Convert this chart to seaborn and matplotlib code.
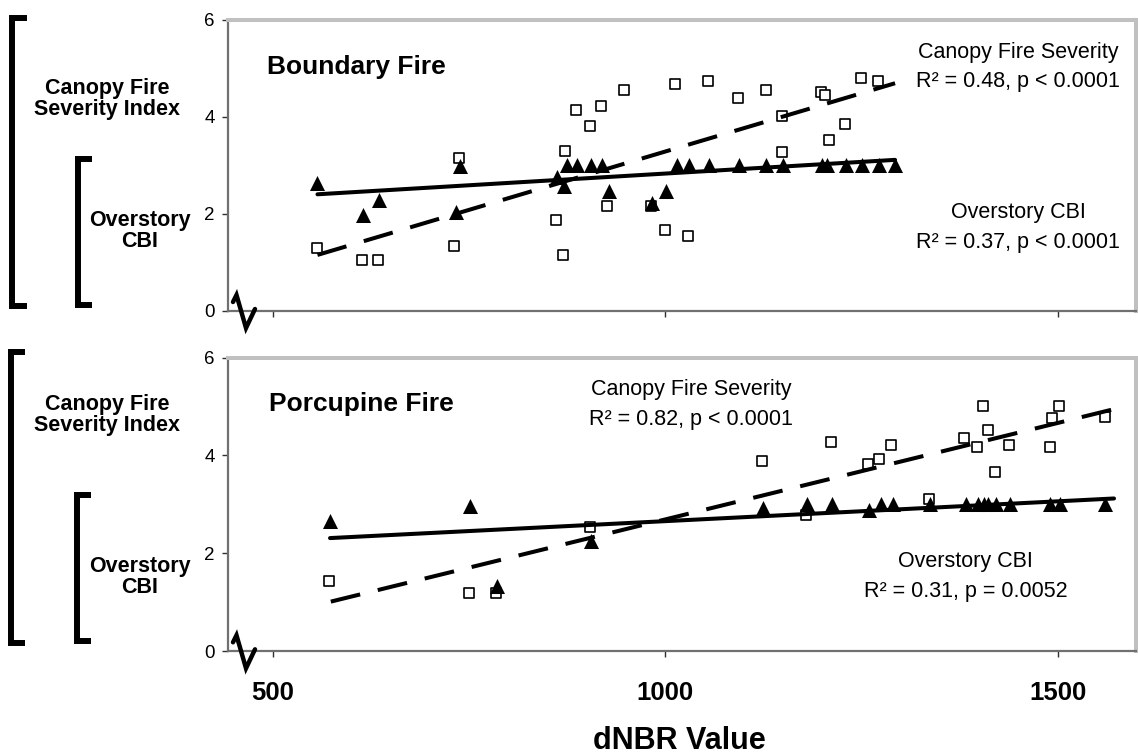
import numpy as np
import pandas as pd
import matplotlib
matplotlib.use("Agg")
import matplotlib.pyplot as plt
from matplotlib.lines import Line2D
import seaborn as sns

# ---------------- data ----------------
# Boundary Fire
bnd_cfsi_x = [557, 614, 634, 731, 737, 861, 870, 873, 887, 904, 918, 926, 947, 982,
              1000, 1012, 1029, 1055, 1093, 1128, 1149, 1149, 1198, 1204, 1209, 1229, 1250, 1271]
bnd_cfsi_y = [1.29, 1.05, 1.05, 1.33, 3.14, 1.87, 1.15, 3.30, 4.14, 3.81, 4.23, 2.16, 4.56, 2.16,
              1.66, 4.67, 1.55, 4.74, 4.38, 4.56, 4.01, 3.27, 4.50, 4.45, 3.52, 3.84, 4.80, 4.74]
bnd_cbi_x = [557, 615, 635, 733, 738, 862, 871, 875, 888, 906, 919, 928, 983,
             1001, 1015, 1031, 1056, 1094, 1129, 1150, 1200, 1206, 1230, 1251, 1272, 1293]
bnd_cbi_y = [2.63, 1.97, 2.28, 2.04, 2.98, 2.76, 2.58, 3.0, 3.0, 3.0, 3.0, 2.47, 2.23,
             2.47, 3.0, 3.0, 3.0, 3.0, 3.0, 3.0, 3.0, 3.0, 3.0, 3.0, 3.0, 3.0]
bnd_cfsi_fit_x = [557, 1293]
bnd_cfsi_fit_y = [1.15, 4.69]
bnd_cbi_fit_x = [557, 1293]
bnd_cbi_fit_y = [2.40, 3.11]

# Porcupine Fire
por_cfsi_x = [572, 750, 785, 904, 1124, 1180, 1211, 1259, 1273, 1288, 1336, 1381, 1398,
              1405, 1411, 1420, 1438, 1491, 1493, 1502, 1561]
por_cfsi_y = [1.44, 1.18, 1.18, 2.54, 3.89, 2.78, 4.28, 3.82, 3.93, 4.21, 3.11, 4.36, 4.18,
              5.02, 4.53, 3.67, 4.21, 4.18, 4.76, 5.02, 4.79]
por_cbi_x = [573, 751, 786, 905, 1125, 1181, 1212, 1260, 1275, 1290, 1337, 1383, 1399,
             1406, 1412, 1421, 1439, 1490, 1503, 1561]
por_cbi_y = [2.65, 2.97, 1.32, 2.26, 2.92, 3.0, 3.0, 2.88, 3.0, 3.0, 3.0, 3.0, 3.0,
             3.0, 3.0, 3.0, 3.0, 3.0, 3.0, 3.0]
por_cfsi_fit_x = [574, 1570]
por_cfsi_fit_y = [1.01, 4.94]
por_cbi_fit_x = [573, 1572]
por_cbi_fit_y = [2.31, 3.12]

fire_names = ["Boundary Fire", "Porcupine Fire"]
cfsi_stats = ["R\u00b2 = 0.48, p < 0.0001", "R\u00b2 = 0.82, p < 0.0001"]
cbi_stats = ["R\u00b2 = 0.37, p < 0.0001", "R\u00b2 = 0.31, p = 0.0052"]
y_ticks = [0, 2, 4, 6]
x_ticks = [500, 1000, 1500]
x_label = "dNBR Value"

# ---------------- style ----------------
sns.set_theme(style="white")
plt.rcParams['font.family'] = ['Liberation Sans', 'DejaVu Sans']
plt.rcParams['text.color'] = 'black'
plt.rcParams['axes.labelcolor'] = 'black'
plt.rcParams['xtick.labelcolor'] = 'black'
plt.rcParams['ytick.labelcolor'] = 'black'

W, H = 1138, 754
fig = plt.figure(figsize=(W / 100, H / 100), dpi=100)


def fx(px):
    return px / W


def fy(py):
    return 1 - py / H


XLIM = (443, 1600)
ax_top = fig.add_axes([fx(228), fy(310.7), fx(1136) - fx(228), (310.7 - 19.7) / H])
ax_bot = fig.add_axes([fx(228), fy(651), fx(1136) - fx(228), (651 - 357.7) / H])


def draw_panel(ax, sx, sy, tx, ty, fsx, fsy, ftx, fty):
    sns.scatterplot(x=sx, y=sy, marker='s', s=58, color='white', edgecolor='black',
                    linewidth=1.2, ax=ax, zorder=3)
    sns.scatterplot(x=tx, y=ty, marker='^', s=117, color='black', edgecolor='black',
                    linewidth=0, ax=ax, zorder=4)
    sns.lineplot(x=fsx, y=fsy, color='black', linewidth=2.9, linestyle=(0, (7.5, 4.5)),
                 ax=ax, zorder=5)
    sns.lineplot(x=ftx, y=fty, color='black', linewidth=2.9, ax=ax, zorder=5)
    ax.set_xlim(*XLIM)
    ax.set_ylim(0, 6)
    ax.set_yticks(y_ticks)
    ax.set_xticks(x_ticks)
    ax.set_xlabel("")
    ax.set_ylabel("")
    for side in ['top', 'right']:
        ax.spines[side].set_color('#c0c0c0')
        ax.spines[side].set_linewidth(2.9)
    for side in ['left', 'bottom']:
        ax.spines[side].set_color('#707070')
        ax.spines[side].set_linewidth(1.6)
    ax.tick_params(axis='both', which='both', direction='out', length=4.5, width=1,
                   color='#303030', left=True, bottom=True)
    ax.tick_params(axis='y', labelsize=13.5, pad=5, labelcolor='black')
    ax.grid(False)


draw_panel(ax_top, bnd_cfsi_x, bnd_cfsi_y, bnd_cbi_x, bnd_cbi_y,
           bnd_cfsi_fit_x, bnd_cfsi_fit_y, bnd_cbi_fit_x, bnd_cbi_fit_y)
draw_panel(ax_bot, por_cfsi_x, por_cfsi_y, por_cbi_x, por_cbi_y,
           por_cfsi_fit_x, por_cfsi_fit_y, por_cbi_fit_x, por_cbi_fit_y)

ax_top.tick_params(axis='x', labelbottom=False)
ax_bot.tick_params(axis='x', labelsize=18.5, pad=17, labelcolor='black')
for lab in ax_bot.get_xticklabels():
    lab.set_fontweight('bold')

# panel titles and annotations
ax_top.text(493, 5.03, fire_names[0], fontsize=19, fontweight='bold', ha='left', va='center')
ax_top.text(1450, 5.33, "Canopy Fire Severity", fontsize=15.5, ha='center', va='center')
ax_top.text(1450, 4.72, cfsi_stats[0], fontsize=15.5, ha='center', va='center')
ax_top.text(1450, 2.03, "Overstory CBI", fontsize=15.5, ha='center', va='center')
ax_top.text(1450, 1.41, cbi_stats[0], fontsize=15.5, ha='center', va='center')

ax_bot.text(495, 5.05, fire_names[1], fontsize=19, fontweight='bold', ha='left', va='center')
ax_bot.text(1033, 5.34, "Canopy Fire Severity", fontsize=15.5, ha='center', va='center')
ax_bot.text(1033, 4.73, cfsi_stats[1], fontsize=15.5, ha='center', va='center')
ax_bot.text(1383, 1.83, "Overstory CBI", fontsize=15.5, ha='center', va='center')
ax_bot.text(1383, 1.21, cbi_stats[1], fontsize=15.5, ha='center', va='center')

fig.text(fx(679), fy(741), x_label, fontsize=22, fontweight='bold', ha='center', va='center')


# brackets and left labels
def bracket(x, xt, ytop, ybot):
    fig.add_artist(Line2D([fx(xt), fx(x), fx(x), fx(xt)], [fy(ytop), fy(ytop), fy(ybot), fy(ybot)],
                          transform=fig.transFigure, color='black', linewidth=4.3,
                          solid_joinstyle='miter', solid_capstyle='butt'))


bracket(11.7, 27, 17.5, 306)
bracket(78.3, 92, 159, 305)
bracket(10.7, 25, 351.5, 643)
bracket(77.3, 91, 495, 641)

for cy1, cy2 in [(99, 231), (415, 577)]:
    fig.text(fx(107), fy(cy1), "Canopy Fire\nSeverity Index", fontsize=15.5, fontweight='bold',
             ha='center', va='center', linespacing=0.97)
    fig.text(fx(140), fy(cy2), "Overstory\nCBI", fontsize=15.5, fontweight='bold',
             ha='center', va='center', linespacing=0.98)

# axis break marks
for off in [0, 340.3]:
    xs = [233, 236.5, 246, 255]
    ys = [302 + off, 295 + off, 328 + off, 309 + off]
    fig.add_artist(Line2D([fx(v) for v in xs], [fy(v) for v in ys], transform=fig.transFigure,
                          color='black', linewidth=3.2, solid_joinstyle='miter'))

fig.savefig("out.png", dpi=100)
